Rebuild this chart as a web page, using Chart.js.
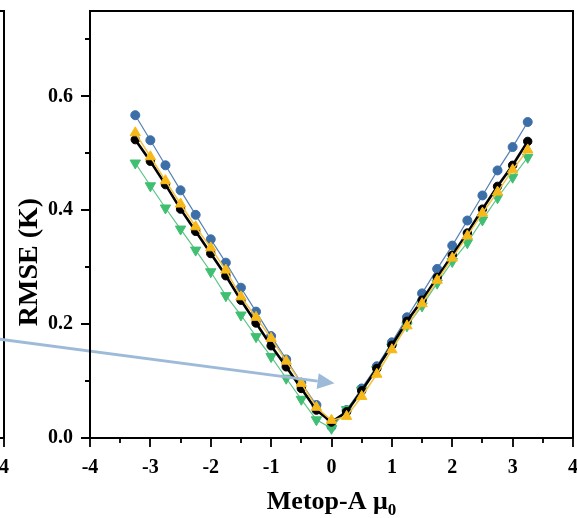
<!DOCTYPE html>
<html>
<head>
<meta charset="utf-8">
<script src="https://cdn.jsdelivr.net/npm/chart.js@4.4.1/dist/chart.umd.min.js"></script>
<style>
  html, body { margin: 0; padding: 0; background: #fff; }
  #wrap { position: relative; width: 577px; height: 518px; overflow: hidden; background: #fff; }
  #wrap canvas { position: absolute; top: 0; }
  #main { left: 0; }
  #prev { left: -569px; }
</style>
</head>
<body>
<div id="wrap">
  <canvas id="prev" width="620" height="518"></canvas>
  <canvas id="main" width="620" height="518"></canvas>
</div>
<script>
// solar zenith cosine bins (x) and RMSE for the four series
const mu0 = [-3.25, -3, -2.75, -2.5, -2.25, -2, -1.75, -1.5, -1.25, -1, -0.75, -0.5, -0.25, 0,
  0.25, 0.5, 0.75, 1, 1.25, 1.5, 1.75, 2, 2.25, 2.5, 2.75, 3, 3.25]
const rmseBlue = [0.567, 0.523, 0.479, 0.435, 0.392, 0.349, 0.308, 0.264, 0.222, 0.179, 0.138, 0.097, 0.058, 0.020,
  0.049, 0.087, 0.126, 0.168, 0.212, 0.254, 0.297, 0.338, 0.382, 0.426, 0.470, 0.511, 0.555]
const rmseBlack = [0.524, 0.486, 0.445, 0.402, 0.363, 0.324, 0.285, 0.242, 0.202, 0.162, 0.125, 0.087, 0.049, 0.028,
  0.046, 0.083, 0.122, 0.163, 0.205, 0.242, 0.282, 0.321, 0.360, 0.402, 0.442, 0.479, 0.521]
const rmseYellow = [0.536, 0.494, 0.452, 0.411, 0.371, 0.334, 0.295, 0.248, 0.212, 0.175, 0.135, 0.096, 0.054, 0.031,
  0.038, 0.073, 0.112, 0.155, 0.197, 0.236, 0.277, 0.316, 0.355, 0.395, 0.432, 0.471, 0.506]
const rmseGreen = [0.483, 0.443, 0.404, 0.367, 0.330, 0.292, 0.250, 0.216, 0.178, 0.143, 0.105, 0.068, 0.032, 0.017,
  0.050, 0.084, 0.120, 0.160, 0.197, 0.232, 0.272, 0.310, 0.343, 0.383, 0.422, 0.458, 0.493]

const xTitle = 'Metop-A '
const xTitleSymbol = 'μ'
const xTitleSub = '0'
const yTitle = 'RMSE (K)'

// annotation arrow, in data units: [mu0, RMSE]
const arrowFrom = [-5.6, 0.175]
const arrowTo = [0.05, 0.096]

const FONT = 'Liberation Serif'
Chart.defaults.font.family = FONT
Chart.defaults.font.weight = 'bold'
Chart.defaults.font.size = 20
Chart.defaults.color = '#000'

const pts = ys => mu0.map((x, i) => ({ x, y: ys[i] }))
const isMajor = (v, step) => Math.abs(v / step - Math.round(v / step)) < 1e-6

const frameAndTicks = {
  id: 'frameAndTicks',
  afterDraw(chart) {
    const { ctx, chartArea: a, scales: { x, y } } = chart
    ctx.save()
    ctx.strokeStyle = '#000'
    ctx.lineWidth = 2
    ctx.strokeRect(a.left, a.top, a.right - a.left, a.bottom - a.top)
    ctx.lineWidth = 1.8
    ctx.beginPath()
    y.ticks.forEach(t => {
      const py = Math.round(y.getPixelForValue(t.value))
      const len = isMajor(t.value, 0.2) ? 9 : 5
      ctx.moveTo(a.left - len, py)
      ctx.lineTo(a.left, py)
    })
    x.ticks.forEach(t => {
      const px = Math.round(x.getPixelForValue(t.value))
      const len = isMajor(t.value, 1) ? 9 : 5
      ctx.moveTo(px, a.bottom)
      ctx.lineTo(px, a.bottom + len)
    })
    ctx.stroke()
    ctx.restore()
  }
}

const titles = {
  id: 'titles',
  afterDraw(chart) {
    const { ctx, chartArea: a } = chart
    ctx.save()
    ctx.fillStyle = '#000'
    ctx.textBaseline = 'alphabetic'
    const big = `bold 26px "${FONT}"`
    const small = `bold 17px "${FONT}"`
    ctx.font = big
    const w1 = ctx.measureText(xTitle).width
    const w2 = ctx.measureText(xTitleSymbol).width
    ctx.font = small
    const w3 = ctx.measureText(xTitleSub).width
    let cx = (a.left + a.right) / 2 - (w1 + w2 + w3) / 2
    ctx.font = big
    ctx.textAlign = 'left'
    ctx.fillText(xTitle, cx, 509)
    ctx.fillText(xTitleSymbol, cx + w1, 509)
    ctx.font = small
    ctx.fillText(xTitleSub, cx + w1 + w2, 515)

    ctx.translate(30, 262)
    ctx.rotate(-Math.PI / 2)
    ctx.font = `bold 28px "${FONT}"`
    ctx.textAlign = 'center'
    ctx.textBaseline = 'middle'
    ctx.fillText(yTitle, 0, 0)
    ctx.restore()
  }
}

const arrow = {
  id: 'arrow',
  afterDatasetsDraw(chart) {
    const { ctx, scales: { x, y } } = chart
    const x0 = x.getPixelForValue(arrowFrom[0]), y0 = y.getPixelForValue(arrowFrom[1])
    const x1 = x.getPixelForValue(arrowTo[0]), y1 = y.getPixelForValue(arrowTo[1])
    const ang = Math.atan2(y1 - y0, x1 - x0)
    const head = 17, half = 8
    const bx = x1 - head * Math.cos(ang), by = y1 - head * Math.sin(ang)
    ctx.save()
    ctx.strokeStyle = '#9dbbd9'
    ctx.fillStyle = '#9dbbd9'
    ctx.lineWidth = 3
    ctx.beginPath()
    ctx.moveTo(x0, y0)
    ctx.lineTo(bx, by)
    ctx.stroke()
    ctx.beginPath()
    ctx.moveTo(x1, y1)
    ctx.lineTo(bx + half * Math.sin(ang), by - half * Math.cos(ang))
    ctx.lineTo(bx - half * Math.sin(ang), by + half * Math.cos(ang))
    ctx.closePath()
    ctx.fill()
    ctx.restore()
  }
}

function series(data, color, lineColor, width, style, radius, rot, order) {
  return {
    data: pts(data),
    borderColor: lineColor,
    borderWidth: width,
    pointStyle: style,
    pointRadius: radius,
    pointRotation: rot,
    pointBackgroundColor: color,
    pointBorderColor: color,
    pointBorderWidth: 1,
    order
  }
}

function makeChart(el, datasets, extra) {
  return new Chart(el, {
    type: 'line',
    data: { datasets },
    options: {
      responsive: false,
      animation: false,
      layout: { padding: { left: 0, top: 11, right: 47, bottom: 0 } },
      plugins: { legend: { display: false }, tooltip: { enabled: false } },
      scales: {
        x: {
          type: 'linear',
          min: -4,
          max: 4,
          grid: { display: false, drawTicks: true, tickLength: 9 },
          border: { display: false },
          ticks: {
            stepSize: 0.5,
            autoSkip: false,
            maxRotation: 0,
            padding: 9,
            callback: v => isMajor(v, 1) ? String(Math.round(v)) : ''
          },
          afterFit: s => { s.height = 80; s.paddingLeft = 0; s.paddingRight = 0 }
        },
        y: {
          min: 0,
          max: 0.75,
          grid: { display: false, drawTicks: true, tickLength: 9 },
          border: { display: false },
          ticks: {
            stepSize: 0.1,
            includeBounds: false,
            autoSkip: false,
            padding: 8,
            callback: v => isMajor(v, 0.2) ? v.toFixed(1) : ''
          },
          afterFit: s => { s.width = 90; s.paddingTop = 0; s.paddingBottom = 0 }
        }
      }
    },
    plugins: [frameAndTicks, ...extra]
  })
}

makeChart(document.getElementById('prev'), [], [])

makeChart(document.getElementById('main'), [
  series(rmseYellow, '#f6b919', '#f3c240', 1.5, 'triangle', 6, 0, 0),
  series(rmseBlack, '#000000', '#000000', 2.6, 'circle', 4.2, 0, 1),
  series(rmseGreen, '#40bf72', '#5cc487', 1.2, 'triangle', 6, 180, 2),
  series(rmseBlue, '#3c6ea8', '#5580b5', 1.2, 'circle', 4.5, 0, 3)
], [arrow, titles])
</script>
</body>
</html>
